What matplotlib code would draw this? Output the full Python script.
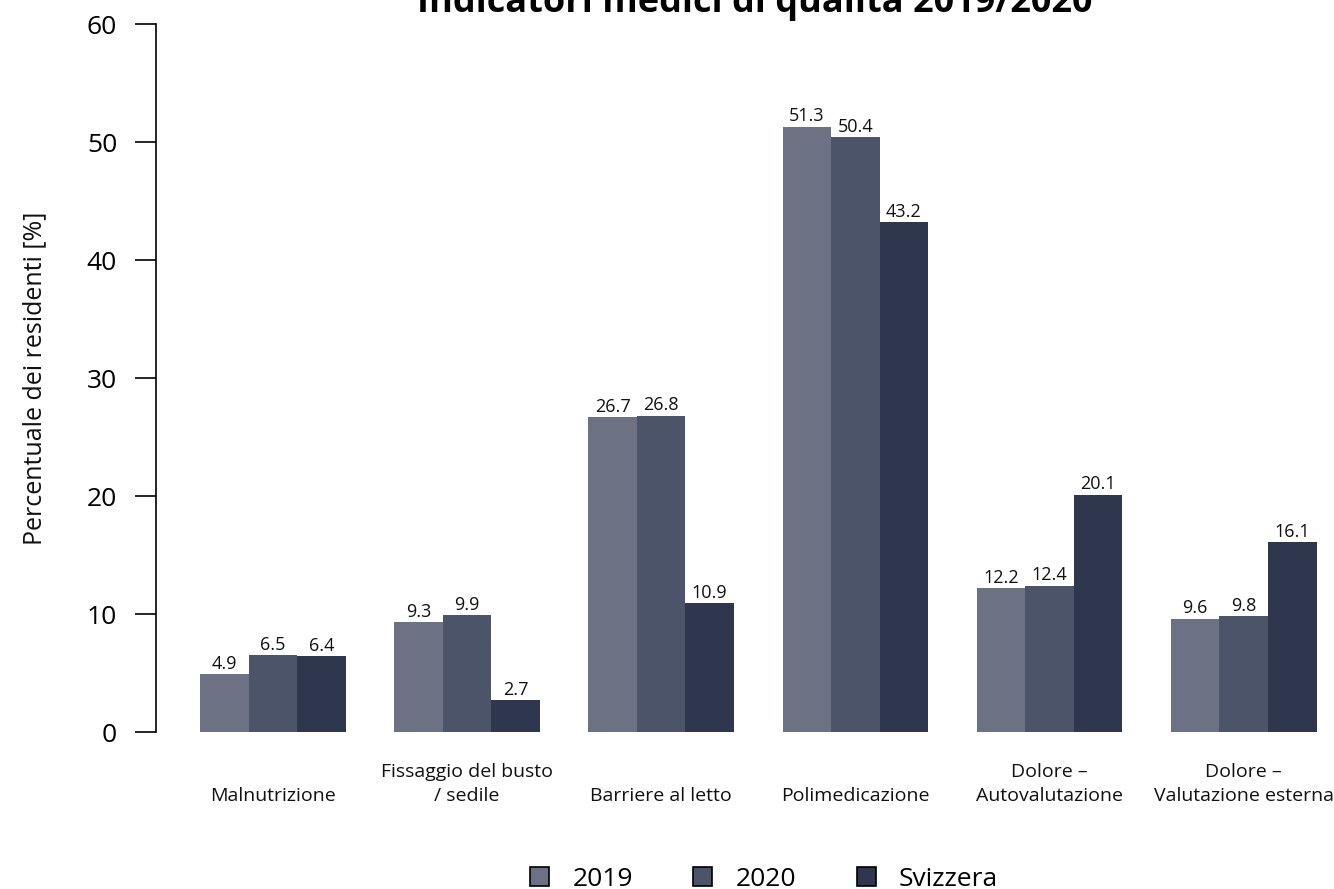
import matplotlib
matplotlib.use('Agg')
import matplotlib.pyplot as plt
import numpy as np
from matplotlib.patches import Patch

plt.rcParams['font.family'] = ['Open Sans', 'DejaVu Sans']

CATEGORIES = ['Malnutrizione',
              'Fissaggio del busto\n/ sedile',
              'Barriere al letto',
              'Polimedicazione',
              'Dolore \u2013\nAutovalutazione',
              'Dolore \u2013\nValutazione esterna']

SERIES = ['2019', '2020', 'Svizzera']
VALUES_2019 = [4.9, 9.3, 26.7, 51.3, 12.2, 9.6]
VALUES_2020 = [6.5, 9.9, 26.8, 50.4, 12.4, 9.8]
VALUES_CH = [6.4, 2.7, 10.9, 43.2, 20.1, 16.1]

COLORS = ['#6c7284', '#4b5468', '#2e374e']

W, H = 1334, 889
fig = plt.figure(figsize=(W / 100, H / 100), dpi=100)
# plot region in pixel terms: y axis at x=156, zero at y=732, 60 at y=24
ax = fig.add_axes([156 / W, 1 - 732 / H, 1 - 156 / W, (732 - 24) / H])

# barplot layout: one unit of space before each group of three bars
n = len(CATEGORIES)
group_start = 1 + 4 * np.arange(n)
for i, (vals, color) in enumerate(zip([VALUES_2019, VALUES_2020, VALUES_CH], COLORS)):
    x = group_start + i + 0.5
    ax.bar(x, vals, width=1.0, color=color, linewidth=0)
    for xi, v in zip(x, vals):
        ax.annotate(f'{v:.1f}', xy=(xi, v), xytext=(0, 1.0), textcoords='offset points',
                    ha='center', va='bottom', fontsize=13, color='#111111')

ax.set_xlim(0.094, 24.36)
ax.set_ylim(0, 60)

for side in ['top', 'right', 'bottom']:
    ax.spines[side].set_visible(False)
ax.spines['left'].set_linewidth(1.2)
ax.set_xticks([])
ax.set_yticks(np.arange(0, 61, 10))
ax.tick_params(axis='y', length=15, width=1.2, pad=13, labelsize=19, colors='black')

# category labels, bottom aligned under each group
for xs, label in zip(group_start + 1.5, CATEGORIES):
    ax.annotate(label, xy=(xs, 0), xycoords=('data', 'axes fraction'),
                xytext=(0, -52.5), textcoords='offset points',
                ha='center', va='bottom', fontsize=14, linespacing=1.4,
                multialignment='center', color='#111111')

fig.text(35 / W, 1 - 378 / H, 'Percentuale dei residenti [%]', rotation=90,
         ha='center', va='center', fontsize=18, color='#111111')

fig.text(755 / W, 1 - 12 / H, 'Indicatori medici di qualità 2019/2020',
         ha='center', va='baseline', fontsize=26, fontweight='bold')

handles = [Patch(facecolor=c, edgecolor='black', linewidth=1.2) for c in COLORS]
fig.legend(handles, SERIES, loc='center', bbox_to_anchor=(764 / W, 1 - 879 / H),
           ncol=3, frameon=False, fontsize=19, handlelength=0.72, handleheight=0.72,
           handletextpad=0.87, columnspacing=2.3, borderpad=0, borderaxespad=0)

fig.savefig('out.png', dpi=100)
